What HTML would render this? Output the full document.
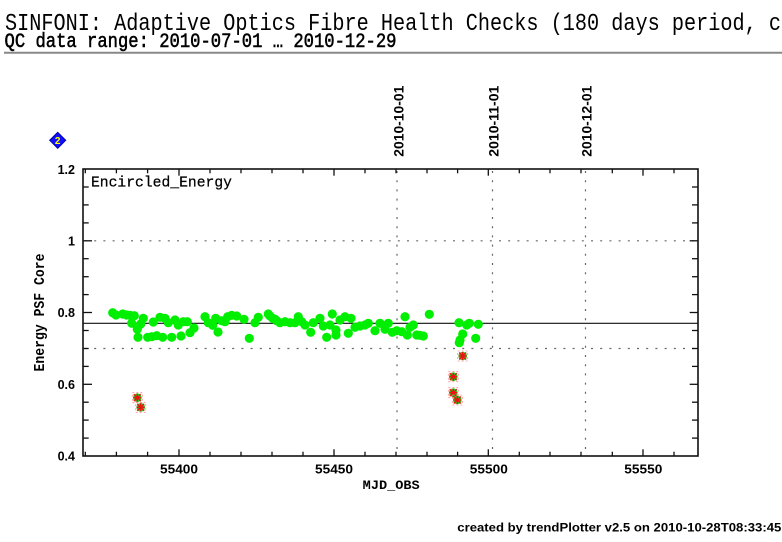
<!DOCTYPE html>
<html><head><meta charset="utf-8"><style>
html,body{margin:0;padding:0;background:#fff;}
svg{display:block;}
</style></head><body>
<svg width="782" height="542" viewBox="0 0 782 542" xmlns="http://www.w3.org/2000/svg">
<rect width="782" height="542" fill="#fff"/>
<!-- title -->
<text transform="translate(5,30) scale(1,1.2)" font-family="Liberation Mono, monospace" font-size="20" textLength="776" lengthAdjust="spacingAndGlyphs" fill="#000">SINFONI: Adaptive Optics Fibre Health Checks (180 days period, c</text>
<text transform="translate(4.5,47) scale(1,1.2)" font-family="Liberation Mono, monospace" font-size="17" stroke="#000" stroke-width="0.45" textLength="392" lengthAdjust="spacingAndGlyphs" fill="#000">QC data range: 2010-07-01 … 2010-12-29</text>
<line x1="4" y1="52.7" x2="782" y2="52.7" stroke="#888" stroke-width="2"/>

<!-- diamond icon -->
<polygon points="57.7,132.3 65.7,140.3 57.7,148.3 49.7,140.3" fill="#1010ff" stroke="#0000aa" stroke-width="1"/>
<text x="57.7" y="144" font-family="Liberation Sans, sans-serif" font-size="10" font-weight="bold" fill="#ffff00" text-anchor="middle">2</text>

<!-- date labels -->
<g font-family="Liberation Sans, sans-serif" font-size="13.5" font-weight="bold" fill="#000">
<text transform="translate(403.3,156.7) rotate(-90)" textLength="71" lengthAdjust="spacingAndGlyphs">2010-10-01</text>
<text transform="translate(498.3,156.7) rotate(-90)" textLength="71" lengthAdjust="spacingAndGlyphs">2010-11-01</text>
<text transform="translate(591.7,156.7) rotate(-90)" textLength="71" lengthAdjust="spacingAndGlyphs">2010-12-01</text>
</g>

<!-- grid dotted -->
<g stroke="#666" stroke-width="1.2" stroke-dasharray="2,7.2" fill="none">
<line x1="85" y1="240.8" x2="698" y2="240.8"/>
<line x1="85" y1="348.5" x2="698" y2="348.5"/>
<line x1="397" y1="171" x2="397" y2="456"/>
<line x1="492.5" y1="171" x2="492.5" y2="456"/>
<line x1="585.5" y1="171" x2="585.5" y2="456"/>
</g>
<!-- solid mean line -->
<line x1="83" y1="323.3" x2="698" y2="323.3" stroke="#111" stroke-width="1.1"/>

<!-- ticks -->
<g stroke="#111" stroke-width="1.3">
<line x1="85.3" y1="456" x2="85.3" y2="451.7"/><line x1="85.3" y1="169" x2="85.3" y2="173.3"/>
<line x1="116.4" y1="456" x2="116.4" y2="451.7"/><line x1="116.4" y1="169" x2="116.4" y2="173.3"/>
<line x1="147.6" y1="456" x2="147.6" y2="451.7"/><line x1="147.6" y1="169" x2="147.6" y2="173.3"/>
<line x1="179" y1="456" x2="179" y2="449.3"/><line x1="179" y1="169" x2="179" y2="175.7"/>
<line x1="210" y1="456" x2="210" y2="451.7"/><line x1="210" y1="169" x2="210" y2="173.3"/>
<line x1="241" y1="456" x2="241" y2="451.7"/><line x1="241" y1="169" x2="241" y2="173.3"/>
<line x1="272" y1="456" x2="272" y2="451.7"/><line x1="272" y1="169" x2="272" y2="173.3"/>
<line x1="303" y1="456" x2="303" y2="451.7"/><line x1="303" y1="169" x2="303" y2="173.3"/>
<line x1="334" y1="456" x2="334" y2="449.3"/><line x1="334" y1="169" x2="334" y2="175.7"/>
<line x1="365" y1="456" x2="365" y2="451.7"/><line x1="365" y1="169" x2="365" y2="173.3"/>
<line x1="396" y1="456" x2="396" y2="451.7"/><line x1="396" y1="169" x2="396" y2="173.3"/>
<line x1="427" y1="456" x2="427" y2="451.7"/><line x1="427" y1="169" x2="427" y2="173.3"/>
<line x1="457.6" y1="456" x2="457.6" y2="451.7"/><line x1="457.6" y1="169" x2="457.6" y2="173.3"/>
<line x1="488.3" y1="456" x2="488.3" y2="449.3"/><line x1="488.3" y1="169" x2="488.3" y2="175.7"/>
<line x1="519.3" y1="456" x2="519.3" y2="451.7"/><line x1="519.3" y1="169" x2="519.3" y2="173.3"/>
<line x1="550" y1="456" x2="550" y2="451.7"/><line x1="550" y1="169" x2="550" y2="173.3"/>
<line x1="581" y1="456" x2="581" y2="451.7"/><line x1="581" y1="169" x2="581" y2="173.3"/>
<line x1="612.3" y1="456" x2="612.3" y2="451.7"/><line x1="612.3" y1="169" x2="612.3" y2="173.3"/>
<line x1="643" y1="456" x2="643" y2="449.3"/><line x1="643" y1="169" x2="643" y2="175.7"/>
<line x1="674" y1="456" x2="674" y2="451.7"/><line x1="674" y1="169" x2="674" y2="173.3"/>
<line x1="83" y1="438.1" x2="88.7" y2="438.1"/><line x1="698" y1="438.1" x2="692" y2="438.1"/>
<line x1="83" y1="420.1" x2="88.7" y2="420.1"/><line x1="698" y1="420.1" x2="692" y2="420.1"/>
<line x1="83" y1="402.2" x2="88.7" y2="402.2"/><line x1="698" y1="402.2" x2="692" y2="402.2"/>
<line x1="83" y1="384.3" x2="92" y2="384.3"/><line x1="698" y1="384.3" x2="689.7" y2="384.3"/>
<line x1="83" y1="366.4" x2="88.7" y2="366.4"/><line x1="698" y1="366.4" x2="692" y2="366.4"/>
<line x1="83" y1="348.5" x2="88.7" y2="348.5"/><line x1="698" y1="348.5" x2="692" y2="348.5"/>
<line x1="83" y1="330.5" x2="88.7" y2="330.5"/><line x1="698" y1="330.5" x2="692" y2="330.5"/>
<line x1="83" y1="312.5" x2="92" y2="312.5"/><line x1="698" y1="312.5" x2="689.7" y2="312.5"/>
<line x1="83" y1="294.6" x2="88.7" y2="294.6"/><line x1="698" y1="294.6" x2="692" y2="294.6"/>
<line x1="83" y1="276.7" x2="88.7" y2="276.7"/><line x1="698" y1="276.7" x2="692" y2="276.7"/>
<line x1="83" y1="258.7" x2="88.7" y2="258.7"/><line x1="698" y1="258.7" x2="692" y2="258.7"/>
<line x1="83" y1="240.8" x2="92" y2="240.8"/><line x1="698" y1="240.8" x2="689.7" y2="240.8"/>
<line x1="83" y1="222.9" x2="88.7" y2="222.9"/><line x1="698" y1="222.9" x2="692" y2="222.9"/>
<line x1="83" y1="204.9" x2="88.7" y2="204.9"/><line x1="698" y1="204.9" x2="692" y2="204.9"/>
<line x1="83" y1="187" x2="88.7" y2="187"/><line x1="698" y1="187" x2="692" y2="187"/>
</g>

<!-- frame -->
<rect x="83" y="169" width="615" height="287" fill="none" stroke="#111" stroke-width="1.6"/>

<!-- Encircled_Energy -->
<text x="91" y="186.7" font-family="Liberation Mono, monospace" font-size="15" stroke="#000" stroke-width="0.25" textLength="141" lengthAdjust="spacingAndGlyphs" fill="#000">Encircled_Energy</text>

<!-- y tick labels -->
<g font-family="Liberation Sans, sans-serif" font-size="12.5" font-weight="bold" fill="#000" text-anchor="end">
<text x="75" y="174">1.2</text>
<text x="75" y="245.5">1</text>
<text x="75" y="317">0.8</text>
<text x="75" y="388.8">0.6</text>
<text x="75" y="460.7">0.4</text>
</g>
<!-- x tick labels -->
<g font-family="Liberation Sans, sans-serif" font-size="13" font-weight="bold" fill="#000" text-anchor="middle">
<text x="179" y="473.3" textLength="38" lengthAdjust="spacingAndGlyphs">55400</text>
<text x="334" y="473.3" textLength="38" lengthAdjust="spacingAndGlyphs">55450</text>
<text x="488.8" y="473.3" textLength="38" lengthAdjust="spacingAndGlyphs">55500</text>
<text x="643.3" y="473.3" textLength="38" lengthAdjust="spacingAndGlyphs">55550</text>
</g>
<!-- axis labels -->
<text x="362.7" y="488.8" font-family="Liberation Mono, monospace" font-size="12.5" font-weight="bold" textLength="57" lengthAdjust="spacingAndGlyphs" fill="#000">MJD_OBS</text>
<text transform="translate(44,371.5) rotate(-90)" font-family="Liberation Mono, monospace" font-size="15" font-weight="bold" textLength="118" lengthAdjust="spacingAndGlyphs" fill="#000">Energy PSF Core</text>

<!-- data points -->
<g fill="#00ee00">
<circle cx="112.7" cy="312.7" r="4.6"/><circle cx="116" cy="315" r="4.6"/><circle cx="122.7" cy="314" r="4.6"/>
<circle cx="126.7" cy="315" r="4.6"/><circle cx="130" cy="315.3" r="4.6"/><circle cx="134.3" cy="315.7" r="4.6"/>
<circle cx="131.7" cy="323.3" r="4.6"/><circle cx="137.3" cy="329.3" r="4.6"/><circle cx="138" cy="337.3" r="4.6"/>
<circle cx="140.7" cy="324" r="4.6"/><circle cx="143.3" cy="318.3" r="4.6"/><circle cx="147.7" cy="337.3" r="4.6"/>
<circle cx="151.7" cy="336.7" r="4.6"/><circle cx="153.3" cy="322" r="4.6"/><circle cx="156.7" cy="335.7" r="4.6"/>
<circle cx="160" cy="317.3" r="4.6"/><circle cx="162.7" cy="337.3" r="4.6"/><circle cx="165" cy="318.3" r="4.6"/>
<circle cx="168.3" cy="322.7" r="4.6"/><circle cx="171.7" cy="337.3" r="4.6"/><circle cx="175" cy="320" r="4.6"/>
<circle cx="178.3" cy="325" r="4.6"/><circle cx="181" cy="336" r="4.6"/><circle cx="183.3" cy="321.7" r="4.6"/>
<circle cx="187.3" cy="321.7" r="4.6"/><circle cx="190" cy="332.7" r="4.6"/><circle cx="194" cy="328" r="4.6"/>
<circle cx="205" cy="316.7" r="4.6"/><circle cx="208.3" cy="322.7" r="4.6"/><circle cx="212.7" cy="325.3" r="4.6"/>
<circle cx="215.7" cy="318.3" r="4.6"/><circle cx="218" cy="332" r="4.6"/><circle cx="221.7" cy="320.7" r="4.6"/>
<circle cx="225" cy="321.7" r="4.6"/><circle cx="227.7" cy="316.7" r="4.6"/><circle cx="231.7" cy="315.3" r="4.6"/>
<circle cx="236.7" cy="316" r="4.6"/><circle cx="244" cy="319.3" r="4.6"/><circle cx="249.3" cy="338.3" r="4.6"/>
<circle cx="255" cy="322.7" r="4.6"/><circle cx="258.3" cy="317.3" r="4.6"/><circle cx="268.3" cy="314" r="4.6"/>
<circle cx="272.7" cy="318.3" r="4.6"/><circle cx="276.7" cy="320.7" r="4.6"/>
<circle cx="270" cy="316" r="4.6"/><circle cx="275" cy="319.3" r="4.6"/><circle cx="280" cy="322.7" r="4.6"/>
<circle cx="285" cy="321.7" r="4.6"/><circle cx="290" cy="322.7" r="4.6"/><circle cx="295" cy="322.7" r="4.6"/>
<circle cx="298.3" cy="316.7" r="4.6"/><circle cx="301.7" cy="321.7" r="4.6"/><circle cx="305" cy="325" r="4.6"/>
<circle cx="310.7" cy="332.3" r="4.6"/><circle cx="313.3" cy="322.7" r="4.6"/><circle cx="320" cy="318.3" r="4.6"/>
<circle cx="323.3" cy="326" r="4.6"/><circle cx="326.7" cy="337.3" r="4.6"/><circle cx="330" cy="325" r="4.6"/>
<circle cx="332.3" cy="314" r="4.6"/><circle cx="336" cy="330" r="4.6"/><circle cx="336" cy="335" r="4.6"/>
<circle cx="340" cy="320" r="4.6"/><circle cx="345" cy="316.7" r="4.6"/><circle cx="348.3" cy="333.3" r="4.6"/>
<circle cx="351" cy="318.3" r="4.6"/><circle cx="355" cy="327.3" r="4.6"/><circle cx="360" cy="326" r="4.6"/>
<circle cx="365" cy="325" r="4.6"/><circle cx="368.3" cy="323.3" r="4.6"/><circle cx="375" cy="330.7" r="4.6"/>
<circle cx="380" cy="323.3" r="4.6"/><circle cx="385" cy="329.3" r="4.6"/><circle cx="388.3" cy="323.3" r="4.6"/>
<circle cx="392.3" cy="332.3" r="4.6"/><circle cx="396.7" cy="330.7" r="4.6"/><circle cx="401.7" cy="331.7" r="4.6"/>
<circle cx="405" cy="316.7" r="4.6"/><circle cx="407.3" cy="335" r="4.6"/><circle cx="410" cy="327.3" r="4.6"/>
<circle cx="413.3" cy="325" r="4.6"/><circle cx="416.7" cy="335" r="4.6"/><circle cx="420" cy="335.3" r="4.6"/>
<circle cx="423.3" cy="336" r="4.6"/><circle cx="429.3" cy="314.3" r="4.6"/>
<circle cx="459" cy="322.7" r="4.6"/><circle cx="466.7" cy="325" r="4.6"/><circle cx="469.3" cy="323.3" r="4.6"/>
<circle cx="478.3" cy="324.3" r="4.6"/><circle cx="462.7" cy="334" r="4.6"/><circle cx="460" cy="340" r="4.6"/>
<circle cx="459.3" cy="342.7" r="4.6"/><circle cx="475.7" cy="338.3" r="4.6"/>
</g>

<!-- flagged points -->
<g>
<g transform="translate(137.3,397.7)"><rect x="-5" y="-5" width="10" height="10" fill="none" stroke="#ff9090" stroke-width="0.8" stroke-dasharray="2,2"/><circle r="4.3" fill="#22cc22"/><path d="M-3.5,-3.5L3.5,3.5M-3.5,3.5L3.5,-3.5M-4,0L4,0M0,-4L0,4" stroke="#ee1111" stroke-width="1.3"/></g>
<g transform="translate(140.7,407.3)"><rect x="-5" y="-5" width="10" height="10" fill="none" stroke="#ff9090" stroke-width="0.8" stroke-dasharray="2,2"/><circle r="4.3" fill="#22cc22"/><path d="M-3.5,-3.5L3.5,3.5M-3.5,3.5L3.5,-3.5M-4,0L4,0M0,-4L0,4" stroke="#ee1111" stroke-width="1.3"/></g>
<g transform="translate(462.7,356)"><rect x="-5" y="-5" width="10" height="10" fill="none" stroke="#ff9090" stroke-width="0.8" stroke-dasharray="2,2"/><circle r="4.3" fill="#22cc22"/><path d="M-3.5,-3.5L3.5,3.5M-3.5,3.5L3.5,-3.5M-4,0L4,0M0,-4L0,4" stroke="#ee1111" stroke-width="1.3"/></g>
<g transform="translate(453.3,376.7)"><rect x="-5" y="-5" width="10" height="10" fill="none" stroke="#ff9090" stroke-width="0.8" stroke-dasharray="2,2"/><circle r="4.3" fill="#22cc22"/><path d="M-3.5,-3.5L3.5,3.5M-3.5,3.5L3.5,-3.5M-4,0L4,0M0,-4L0,4" stroke="#ee1111" stroke-width="1.3"/></g>
<g transform="translate(453.3,392.7)"><rect x="-5" y="-5" width="10" height="10" fill="none" stroke="#ff9090" stroke-width="0.8" stroke-dasharray="2,2"/><circle r="4.3" fill="#22cc22"/><path d="M-3.5,-3.5L3.5,3.5M-3.5,3.5L3.5,-3.5M-4,0L4,0M0,-4L0,4" stroke="#ee1111" stroke-width="1.3"/></g>
<g transform="translate(457.3,400)"><rect x="-5" y="-5" width="10" height="10" fill="none" stroke="#ff9090" stroke-width="0.8" stroke-dasharray="2,2"/><circle r="4.3" fill="#22cc22"/><path d="M-3.5,-3.5L3.5,3.5M-3.5,3.5L3.5,-3.5M-4,0L4,0M0,-4L0,4" stroke="#ee1111" stroke-width="1.3"/></g>
</g>

<!-- footer -->
<text x="457.3" y="531.5" font-family="Liberation Sans, sans-serif" font-size="11.5" font-weight="bold" textLength="324" lengthAdjust="spacingAndGlyphs" fill="#000">created by trendPlotter v2.5 on 2010-10-28T08:33:45</text>
</svg>
</body></html>
